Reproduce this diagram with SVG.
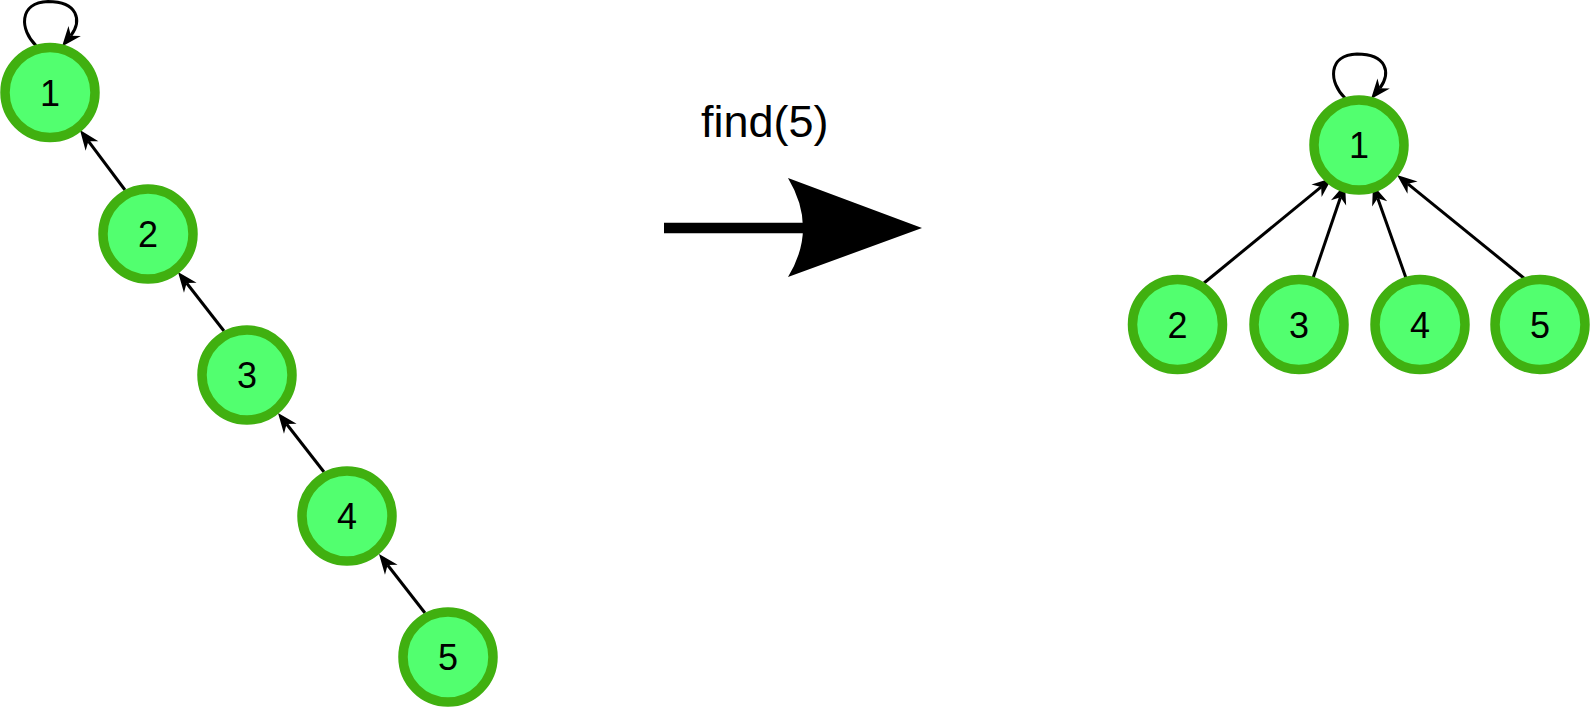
<svg xmlns="http://www.w3.org/2000/svg" width="1590" height="708" viewBox="0 0 1590 708">
<style>
.node circle{fill:#52FF6F;stroke:#40B010;stroke-width:9.5}
.node text{font-family:"Liberation Sans",Arial,sans-serif;font-size:36px;fill:#000;text-anchor:middle}
.title{font-family:"Liberation Sans",Arial,sans-serif;font-size:45px;fill:#000}
.ln{fill:none;stroke:#000;stroke-width:3}
.ah{fill:#000;stroke:none}
</style>
<defs>
<path id="ah" d="M0,0 L-20,-8 L-14,0 L-20,8 Z"/>
<path id="loop" d="M-14,-47 C-30,-62 -32,-90 -2,-91 C28,-91 32,-72 20.9,-56.8"/>
</defs>
<rect width="1590" height="708" fill="#fff"/>
<g id="connectors">
<use href="#loop" class="ln" transform="translate(50,92.5)"/>
<use href="#ah" class="ah" transform="translate(62,46.5) rotate(129.3)"/>
<line class="ln" x1="125" y1="190" x2="88.4" y2="141.2"/>
<use href="#ah" class="ah" transform="translate(80,130) rotate(-126.9)"/>
<line class="ln" x1="224" y1="331" x2="186.6" y2="283"/>
<use href="#ah" class="ah" transform="translate(178,272) rotate(-127.9)"/>
<line class="ln" x1="324" y1="472" x2="286.6" y2="424"/>
<use href="#ah" class="ah" transform="translate(278,413) rotate(-127.9)"/>
<line class="ln" x1="425" y1="613" x2="387.6" y2="565"/>
<use href="#ah" class="ah" transform="translate(379,554) rotate(-127.9)"/>
<use href="#loop" class="ln" transform="translate(1359,145)"/>
<use href="#ah" class="ah" transform="translate(1371,99) rotate(129.3)"/>
<line class="ln" x1="1204" y1="283" x2="1321.2" y2="186.9"/>
<use href="#ah" class="ah" transform="translate(1332,178) rotate(-39.4)"/>
<line class="ln" x1="1312" y1="281" x2="1340.5" y2="197.3"/>
<use href="#ah" class="ah" transform="translate(1345,184) rotate(-71.2)"/>
<line class="ln" x1="1406" y1="278" x2="1377.7" y2="198.2"/>
<use href="#ah" class="ah" transform="translate(1373,185) rotate(-109.5)"/>
<line class="ln" x1="1525" y1="279" x2="1407.9" y2="183.8"/>
<use href="#ah" class="ah" transform="translate(1397,175) rotate(-140.9)"/>
</g>
<g id="transform-arrow">
<line x1="664" y1="228" x2="805" y2="228" stroke="#000" stroke-width="10.5"/>
<path d="M788,178 L922,228 L788,277 Q818,228 788,178 Z" fill="#000"/>
<text class="title" x="701" y="137">find(5)</text>
</g>
<g id="L1" class="node"><circle cx="50" cy="92.5" r="45"/><text x="50" y="105.5">1</text></g>
<g id="L2" class="node"><circle cx="148" cy="234" r="45"/><text x="148" y="247">2</text></g>
<g id="L3" class="node"><circle cx="247" cy="375" r="45"/><text x="247" y="388">3</text></g>
<g id="L4" class="node"><circle cx="347" cy="516" r="45"/><text x="347" y="529">4</text></g>
<g id="L5" class="node"><circle cx="448" cy="657" r="45"/><text x="448" y="670">5</text></g>
<g id="R1" class="node"><circle cx="1359" cy="145" r="45"/><text x="1359" y="158">1</text></g>
<g id="R2" class="node"><circle cx="1177.5" cy="324.5" r="45"/><text x="1177.5" y="337.5">2</text></g>
<g id="R3" class="node"><circle cx="1299" cy="324.5" r="45"/><text x="1299" y="337.5">3</text></g>
<g id="R4" class="node"><circle cx="1420" cy="324.5" r="45"/><text x="1420" y="337.5">4</text></g>
<g id="R5" class="node"><circle cx="1540" cy="324.5" r="45"/><text x="1540" y="337.5">5</text></g>
</svg>
